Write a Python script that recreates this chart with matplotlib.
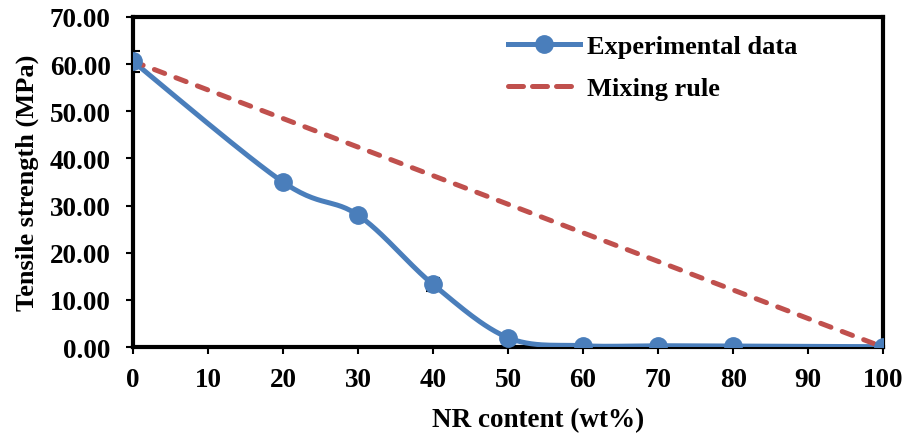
import matplotlib
matplotlib.use("Agg")
import matplotlib.pyplot as plt
import numpy as np

plt.rcParams['font.family'] = ['Liberation Serif', 'DejaVu Serif']
plt.rcParams['font.weight'] = 'bold'

nr_content = [0, 20, 30, 40, 50, 60, 70, 80, 100]
tensile = [60.6, 35.0, 28.0, 13.3, 2.0, 0.3, 0.3, 0.2, 0.1]
tensile_err = [2.2, 0, 0, 1.3, 0, 0, 0, 0, 0]
mix_x = [0, 100]
mix_y = [60.6, 0.0]


def smooth(x, y, n=30):
    # catmull-rom, roughly what excel does for smoothed lines
    x = np.asarray(x, float)
    y = np.asarray(y, float)
    px = np.concatenate([[x[0]], x, [x[-1]]])
    py = np.concatenate([[y[0]], y, [y[-1]]])
    xs, ys = [], []
    t = np.linspace(0, 1, n)
    for i in range(1, len(px) - 2):
        p0, p1, p2, p3 = i - 1, i, i + 1, i + 2
        for arr, out in ((px, xs), (py, ys)):
            a0, a1, a2, a3 = arr[p0], arr[p1], arr[p2], arr[p3]
            out.extend(0.5 * (2 * a1 + (-a0 + a2) * t
                              + (2 * a0 - 5 * a1 + 4 * a2 - a3) * t ** 2
                              + (-a0 + 3 * a1 - 3 * a2 + a3) * t ** 3))
    return np.array(xs), np.array(ys)


fig = plt.figure(figsize=(9.04, 4.39), dpi=100)
ax = fig.add_axes([0.147, 0.207, 0.83, 0.752])

blue = '#4a7ebb'
red = '#c0504d'

sx, sy = smooth(nr_content, tensile)
ax.plot(sx, sy, color=blue, lw=3.6, zorder=3)
ax.errorbar(nr_content, tensile, yerr=tensile_err, fmt='none', ecolor='black',
            elinewidth=1.2, capsize=5, capthick=1.5, zorder=2)
ax.plot(nr_content, tensile, 'o', color=blue, ms=12.5, zorder=4)
ax.plot(mix_x, mix_y, color=red, lw=3.6, dashes=(2.2, 2.4),
        dash_capstyle='round', zorder=3)

# legend handles
h1, = ax.plot([], [], '-o', color=blue, lw=3.6, ms=12.5, label='Experimental data')
h2, = ax.plot([], [], color=red, lw=3.6, dashes=(3, 1.8), dash_capstyle='round',
              label='Mixing rule')
ax.legend(handles=[h1, h2], loc='upper left', bbox_to_anchor=(0.5, 0.947),
          frameon=False, prop={'weight': 'bold', 'size': 19}, handlelength=2.73,
          handletextpad=0.25, labelspacing=0.7, borderpad=0, borderaxespad=0)

ax.set_xlim(0, 100)
ax.set_ylim(0, 70)
ax.set_xticks(np.arange(0, 101, 10))
ax.set_yticks(np.arange(0, 71, 10))
ax.set_yticklabels(['%.2f' % v for v in np.arange(0, 71, 10)])
ax.tick_params(labelsize=19.5, width=1.5, length=5, direction='out')
ax.tick_params(axis='x', pad=9)
ax.tick_params(axis='y', pad=11)
for lab in ax.get_xticklabels() + ax.get_yticklabels():
    lab.set_fontweight('bold')
for sp in ax.spines.values():
    sp.set_linewidth(3)
ax.set_xlabel('NR content (wt%)', fontsize=19.5, fontweight='bold', labelpad=11)
ax.xaxis.label.set_x(0.54)
ax.set_ylabel('Tensile strength (MPa)', fontsize=19, fontweight='bold', labelpad=8)

fig.savefig('out.png', dpi=100)
